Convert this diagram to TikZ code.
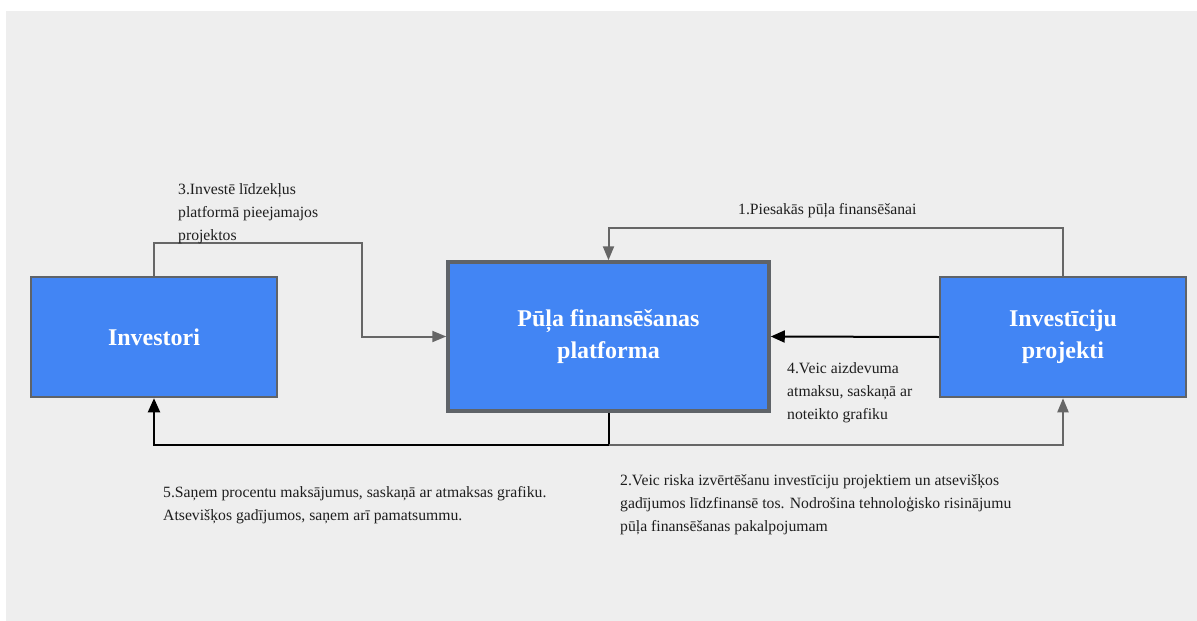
\documentclass[tikz,border=0pt]{standalone}
\usepackage{fontspec}
\setmainfont{Liberation Serif}
\usetikzlibrary{arrows.meta}
\definecolor{bgc}{HTML}{EEEEEE}
\definecolor{boxblue}{HTML}{4285F4}
\definecolor{boxedge}{HTML}{5F6368}
\definecolor{arrgray}{HTML}{666666}
\definecolor{txt}{HTML}{1E1E1E}
\tikzset{
  box/.style={draw=boxedge, fill=boxblue, line width=2.5pt, text=white, align=center,
    font=\fontsize{24}{32}\selectfont\bfseries, inner sep=0pt},
  lbl/.style={text=txt, align=left, inner sep=0pt, font=\fontsize{15.7}{23}\selectfont},
  grayarrow/.style={draw=arrgray, line width=2pt, -{Triangle[length=14pt,width=11pt]}},
  blackarrow/.style={draw=black, line width=2pt, -{Triangle[length=14pt,width=12pt]}}
}
\begin{document}
\begin{tikzpicture}[x=1pt,y=-1pt]
\useasboundingbox (0,0) rectangle (1197,621);
\fill[white] (0,0) rectangle (1197,621);
\fill[bgc] (6,11) rectangle (1197,621);

\node[box, minimum width=246pt, minimum height=120pt] (inv) at (154,337) {Investori};
\node[box, line width=3.5pt, minimum width=321pt, minimum height=149pt] (plat) at (608.5,336.5) {Pūļa finansēšanas\\platforma};
\node[box, minimum width=246pt, minimum height=120pt] (proj) at (1063,337) {Investīciju\\projekti};

\coordinate (k1) at (608.5,228);
\coordinate (k3) at (362,243);
\coordinate (k5) at (608.5,445);

% 1
\draw[grayarrow] (proj.north) |- (k1) -- (plat.north);
% 3
\draw[grayarrow] (inv.north) |- (k3) |- (plat.west);
% 4
\draw[blackarrow] (proj.west) -- (plat.east);
% 5
\draw[blackarrow] (plat.south) -- (k5) -| (inv.south);
% 2
\draw[grayarrow] (k5) -| (proj.south);

\node[lbl, anchor=west] (l1) at (738,211) {1.Piesakās pūļa finansēšanai};
\node[lbl, anchor=north west] (l3) at (178,183) {3.Investē līdzekļus\\platformā pieejamajos\\projektos};
\node[lbl, anchor=north west] (l4) at (787,362) {4.Veic aizdevuma\\atmaksu, saskaņā ar\\noteikto grafiku};
\node[lbl, anchor=north west] (l5) at (163,486) {5.Saņem procentu maksājumus, saskaņā ar atmaksas grafiku.\\Atsevišķos gadījumos, saņem arī pamatsummu.};
\node[lbl, anchor=north west] (l2) at (620,474) {2.Veic riska izvērtēšanu investīciju projektiem un atsevišķos\\gadījumos līdzfinansē tos. Nodrošina tehnoloģisko risinājumu\\pūļa finansēšanas pakalpojumam};
\end{tikzpicture}
\end{document}
